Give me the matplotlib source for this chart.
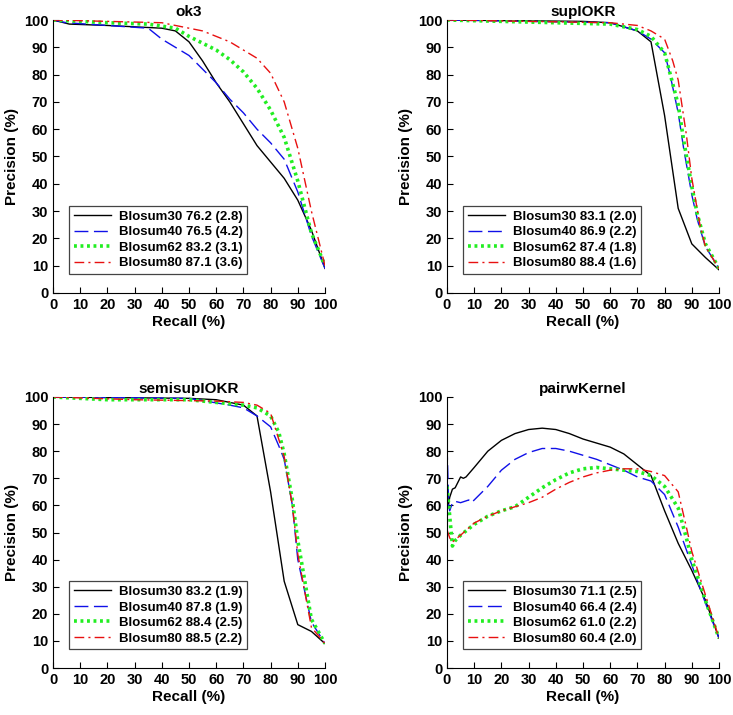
import matplotlib
matplotlib.use("Agg")
import matplotlib.pyplot as plt

plt.rcParams['font.family'] = ['Liberation Sans', 'DejaVu Sans']
plt.rcParams['font.weight'] = 'bold'

series_names = ["Blosum30", "Blosum40", "Blosum62", "Blosum80"]

# ---- ok3 ----
ok3_labels = ["Blosum30 76.2 (2.8)", "Blosum40 76.5 (4.2)", "Blosum62 83.2 (3.1)", "Blosum80 87.1 (3.6)"]
ok3_b30_x = [0, 6, 20, 30, 40, 45, 50, 55, 60, 65, 70, 75, 80, 85, 90, 95, 100]
ok3_b30_y = [100, 98.5, 98, 97.5, 97, 96, 92, 85, 77, 70, 62, 54, 48, 42, 34, 23, 9]
ok3_b40_x = [0, 5, 20, 35, 40, 45, 50, 55, 60, 65, 70, 75, 80, 85, 90, 95, 100]
ok3_b40_y = [100, 99, 98, 97, 93, 90, 87, 82, 77, 71, 66, 60, 55, 49, 37, 21, 9]
ok3_b62_x = [0, 20, 35, 45, 50, 55, 60, 65, 70, 75, 80, 85, 90, 95, 100]
ok3_b62_y = [100, 99, 98.5, 97, 94, 91.5, 89, 85.5, 81, 75, 67, 57, 41, 22, 10]
ok3_b80_x = [0, 20, 40, 45, 55, 65, 75, 80, 85, 90, 95, 100]
ok3_b80_y = [100, 99.5, 99, 98, 96, 92, 86, 80.5, 70, 53, 30, 10]

# ---- supIOKR ----
sup_labels = ["Blosum30 83.1 (2.0)", "Blosum40 86.9 (2.2)", "Blosum62 87.4 (1.8)", "Blosum80 88.4 (1.6)"]
sup_b30_x = [0, 50, 60, 70, 75, 80, 85, 90, 95, 100]
sup_b30_y = [100, 99.5, 99, 96, 92, 65, 31, 18, 13, 8.5]
sup_b40_x = [0, 60, 70, 75, 80, 82, 85, 87, 90, 92, 95, 100]
sup_b40_y = [100, 99, 96, 93, 88, 80, 66, 53, 36, 27, 17, 9]
sup_b62_x = [0, 60, 70, 75, 80, 85, 87, 90, 92, 95, 100]
sup_b62_y = [100, 98.5, 96.5, 94, 88, 69, 56, 39, 29, 18, 9]
sup_b80_x = [0, 60, 70, 75, 80, 83, 85, 88, 90, 93, 95, 100]
sup_b80_y = [100, 99, 98, 96, 93, 85, 78, 58, 42, 25, 17, 9]

# ---- semisupIOKR ----
semi_labels = ["Blosum30 83.2 (1.9)", "Blosum40 87.8 (1.9)", "Blosum62 88.4 (2.5)", "Blosum80 88.5 (2.2)"]
semi_b30_x = [0, 50, 60, 70, 75, 80, 85, 90, 95, 100]
semi_b30_y = [100, 99.5, 99, 97, 93, 65, 32, 16, 13.5, 9]
semi_b40_x = [0, 50, 65, 70, 75, 80, 83, 85, 88, 90, 95, 100]
semi_b40_y = [100, 99.5, 97, 96, 93, 89, 82, 77, 60, 40, 17, 9]
semi_b62_x = [0, 20, 50, 60, 70, 75, 80, 83, 85, 88, 90, 95, 100]
semi_b62_y = [100, 99, 99, 98, 97, 96, 93, 87, 79, 62, 47, 18, 9]
semi_b80_x = [0, 30, 60, 70, 75, 80, 85, 88, 90, 95, 100]
semi_b80_y = [100, 99, 98.5, 98, 97, 94, 78, 60, 42, 15, 9]

# ---- pairwKernel ----
pair_labels = ["Blosum30 71.1 (2.5)", "Blosum40 66.4 (2.4)", "Blosum62 61.0 (2.2)", "Blosum80 60.4 (2.0)"]
pair_b30_x = [0, 0.5, 1, 2, 3, 5, 6, 7, 10, 15, 20, 25, 30, 35, 40, 45, 50, 55, 60, 65, 70, 75, 80, 85, 90, 95, 100]
pair_b30_y = [67, 60, 63, 66, 66.5, 70.5, 70, 70.5, 74, 80, 84, 86.5, 88, 88.5, 88, 86.5, 84.5, 83, 81.5, 79, 75, 71, 58, 46, 36, 25, 11]
pair_b40_x = [0, 0.3, 0.6, 1, 2, 3, 5, 8, 9, 10, 15, 20, 25, 30, 35, 40, 45, 50, 55, 60, 65, 70, 75, 80, 85, 90, 95, 100]
pair_b40_y = [82, 72, 60, 58, 61, 61.5, 61, 62, 61, 62, 67, 73, 77, 79.5, 81, 81, 80, 78.5, 77, 75, 73, 70.5, 69, 64, 52, 38, 24, 11]
pair_b62_x = [0, 1, 2, 3, 5, 10, 15, 20, 25, 30, 35, 40, 45, 50, 55, 60, 65, 70, 75, 80, 85, 88, 90, 95, 100]
pair_b62_y = [67, 56, 45, 47, 49, 53, 56, 58, 59.5, 63, 66.5, 69.5, 72, 73.5, 74, 73.5, 73, 72.5, 71, 67, 59, 48, 40, 25, 11]
pair_b80_x = [0, 1, 2, 5, 10, 15, 20, 25, 30, 35, 40, 45, 50, 55, 60, 65, 70, 75, 80, 85, 88, 90, 95, 100]
pair_b80_y = [51, 48, 46.5, 49, 53.5, 56, 58, 59.5, 61, 63, 66, 68.5, 70.5, 72, 73, 73.5, 73.5, 72.5, 71, 65, 52, 43, 27, 11]

panels = [
    ("ok3", ok3_labels, [(ok3_b30_x, ok3_b30_y), (ok3_b40_x, ok3_b40_y), (ok3_b62_x, ok3_b62_y), (ok3_b80_x, ok3_b80_y)]),
    ("supIOKR", sup_labels, [(sup_b30_x, sup_b30_y), (sup_b40_x, sup_b40_y), (sup_b62_x, sup_b62_y), (sup_b80_x, sup_b80_y)]),
    ("semisupIOKR", semi_labels, [(semi_b30_x, semi_b30_y), (semi_b40_x, semi_b40_y), (semi_b62_x, semi_b62_y), (semi_b80_x, semi_b80_y)]),
    ("pairwKernel", pair_labels, [(pair_b30_x, pair_b30_y), (pair_b40_x, pair_b40_y), (pair_b62_x, pair_b62_y), (pair_b80_x, pair_b80_y)]),
]

styles = [
    dict(color="black", linestyle="-", linewidth=1.0),
    dict(color="#1010e8", linestyle=(0, (10, 4)), linewidth=1.0),
    dict(color="#22ee22", linestyle=(0, (0.8, 1.0)), linewidth=2.6),
    dict(color="#e81010", linestyle=(0, (7, 3, 1.5, 3)), linewidth=1.0),
]

W, H = 733, 715
fig = plt.figure(figsize=(W / 100, H / 100), dpi=100)
rects = [
    (53, 20, 325, 293),
    (447, 20, 719, 293),
    (53, 397, 325, 668),
    (447, 397, 719, 668),
]

for (title, labels, data), (l, t, r, b) in zip(panels, rects):
    ax = fig.add_axes([l / W, 1 - b / H, (r - l) / W, (b - t) / H])
    for (xs, ys), st, lab in zip(data, styles, labels):
        ax.plot(xs, ys, label=lab, **st)
    ax.set_xlim(0, 100)
    ax.set_ylim(0, 100)
    ax.set_xticks(range(0, 101, 10))
    ax.set_yticks(range(0, 101, 10))
    ax.tick_params(direction="in", labelsize=10.5, length=4, width=0.8)
    for lab in ax.get_xticklabels() + ax.get_yticklabels():
        lab.set_fontweight("bold")
    ax.spines["top"].set_visible(False)
    ax.spines["right"].set_visible(False)
    ax.set_xlabel("Recall (%)", fontsize=11, fontweight="bold", labelpad=2)
    ax.set_ylabel("Precision (%)", fontsize=11, fontweight="bold", labelpad=3)
    ax.set_title(title, fontsize=11, fontweight="bold", pad=3)
    leg = ax.legend(loc="lower left", bbox_to_anchor=(0.035, 0.045),
                    handlelength=2.8, labelspacing=0.25, borderpad=0.35,
                    handletextpad=0.6, fancybox=False, framealpha=1,
                    prop={"weight": "bold", "size": 9.5})
    leg.get_frame().set_edgecolor("#444444")
    leg.get_frame().set_linewidth(0.9)

fig.savefig("out.png", dpi=100)
